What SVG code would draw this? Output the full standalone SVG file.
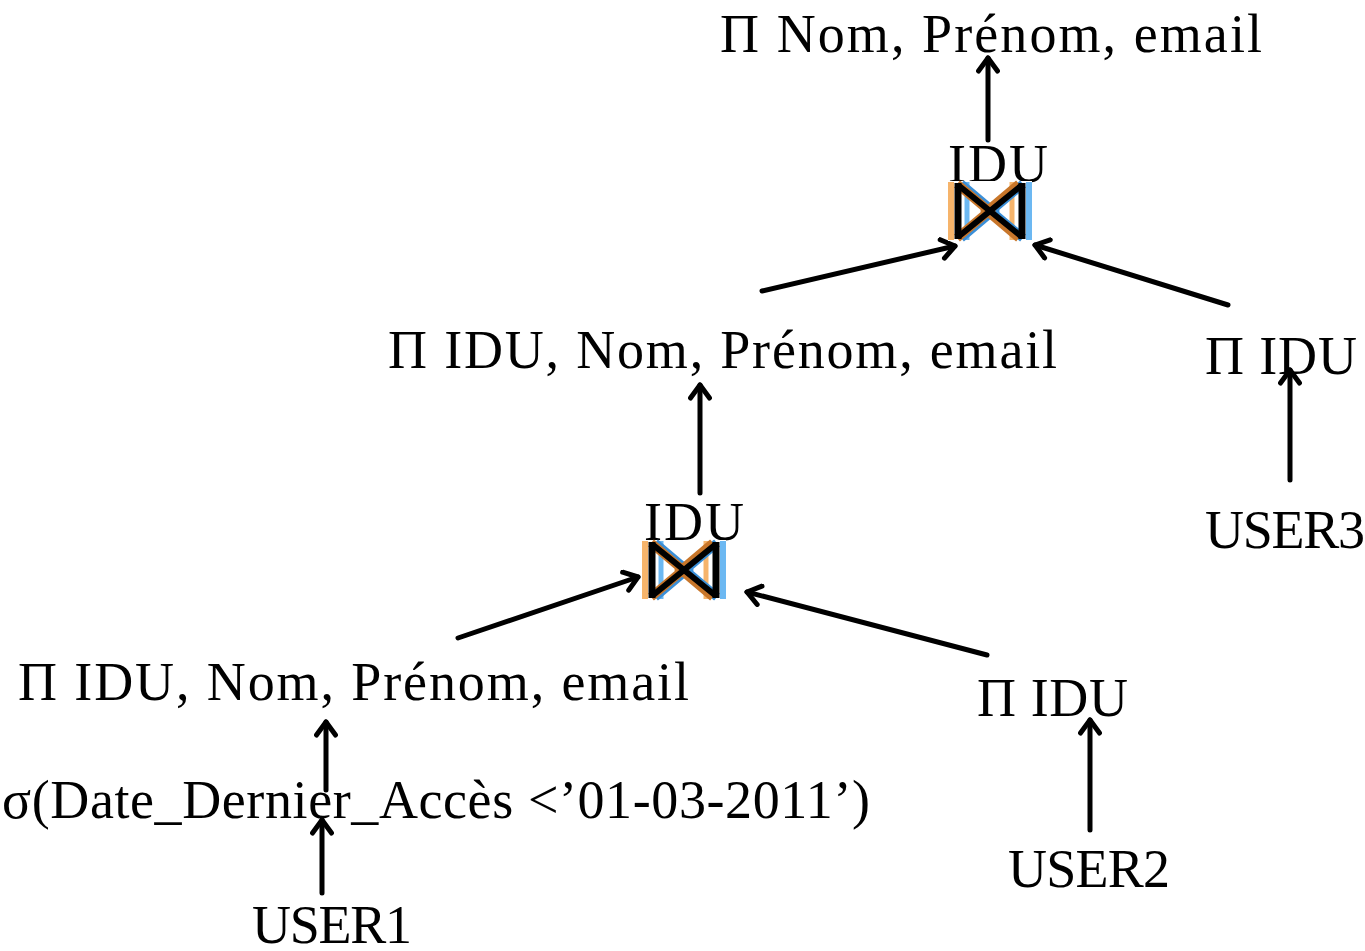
<svg xmlns="http://www.w3.org/2000/svg" width="1365" height="951" viewBox="0 0 1365 951">
<defs>
<style>
text{font-family:"Liberation Serif","Times New Roman",serif;font-size:54px;fill:#000}
.c line{stroke:#000;stroke-width:5;stroke-linecap:round}
</style>
<marker id="ah" viewBox="0 0 24 24" refX="18" refY="12" markerWidth="24" markerHeight="24" markerUnits="userSpaceOnUse" orient="auto">
<path d="M5,2.5 L18,12 L5,21.5" fill="none" stroke="#000" stroke-width="5" stroke-linecap="round" stroke-linejoin="round"/>
</marker>
<g id="bowtie">
<rect x="0" y="0" width="84" height="60" fill="#fff"/>
<path d="M3,1 V59" stroke="#f6b46b" stroke-width="6"/>
<path d="M64,1 V59" stroke="#f6b46b" stroke-width="5"/>
<path d="M81,1 V59" stroke="#6cb8f2" stroke-width="6"/>
<path d="M19,1 V59" stroke="#6cb8f2" stroke-width="5"/>
<path d="M11,3 L43,30 L11,57 M73,3 L41,30 L73,57" stroke="#3a8fd8" stroke-width="9" fill="none" transform="translate(2,0)"/>
<path d="M11,3 L43,30 L11,57 M73,3 L41,30 L73,57" stroke="#c8762a" stroke-width="9" fill="none" transform="translate(-2,0)"/>
<path d="M10,2 V58 M74,2 V58" stroke="#000" stroke-width="7"/>
<path d="M10,4 L42,30 L10,56 M74,4 L42,30 L74,56" stroke="#000" stroke-width="6" fill="none"/>
</g>
</defs>
<rect width="1365" height="951" fill="#fff"/>
<g class="c" id="connectors">
<line x1="988" y1="140" x2="988" y2="58" marker-end="url(#ah)"/>
<line x1="762" y1="291" x2="955" y2="246" marker-end="url(#ah)"/>
<line x1="1228" y1="305" x2="1035" y2="245" marker-end="url(#ah)"/>
<line x1="700" y1="493" x2="700" y2="385" marker-end="url(#ah)"/>
<line x1="1290" y1="480" x2="1290" y2="370" marker-end="url(#ah)"/>
<line x1="458" y1="638" x2="638" y2="577" marker-end="url(#ah)"/>
<line x1="987" y1="655" x2="747" y2="592" marker-end="url(#ah)"/>
<line x1="326" y1="790" x2="326" y2="722" marker-end="url(#ah)"/>
<line x1="1090" y1="830" x2="1090" y2="720" marker-end="url(#ah)"/>
<line x1="322" y1="893" x2="322" y2="820" marker-end="url(#ah)"/>
</g>
<g id="n_proj_top"><text x="720" y="52" textLength="542">Π Nom, Prénom, email</text></g>
<g id="n_join_top"><text x="948" y="182" textLength="100">IDU</text><use href="#bowtie" x="948" y="181"/></g>
<g id="n_proj_mid"><text x="388" y="368" textLength="669">Π IDU, Nom, Prénom, email</text></g>
<g id="n_proj_u3"><text x="1205" y="374" textLength="152">Π IDU</text></g>
<g id="n_user3"><text x="1205" y="548" textLength="160">USER3</text></g>
<g id="n_join_bot"><text x="644" y="540" textLength="100">IDU</text><use href="#bowtie" x="642" y="540"/></g>
<g id="n_proj_low"><text x="18" y="700" textLength="671">Π IDU, Nom, Prénom, email</text></g>
<g id="n_proj_u2"><text x="977" y="716" textLength="151">Π IDU</text></g>
<g id="n_select"><text x="2" y="818" textLength="868">σ(Date_Dernier_Accès &lt;’01-03-2011’)</text></g>
<g id="n_user2"><text x="1008" y="887" textLength="162">USER2</text></g>
<g id="n_user1"><text x="252" y="943" textLength="160">USER1</text></g>
</svg>
